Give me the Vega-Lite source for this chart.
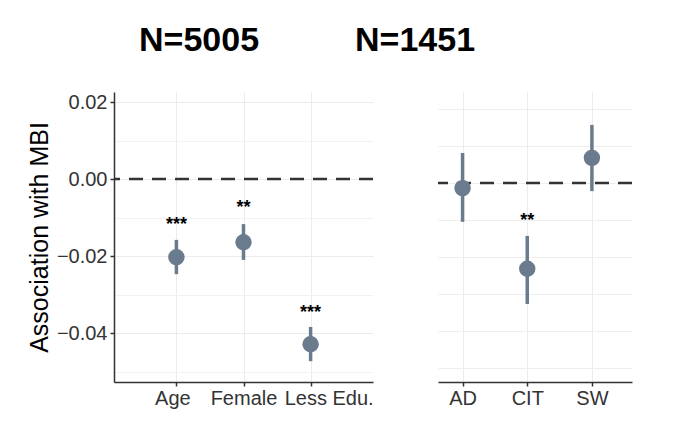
{
  "$schema": "https://vega.github.io/schema/vega-lite/v6.json",
  "padding": {"left": 27, "top": 24, "right": 10, "bottom": 5},
  "background": "white",
  "bounds": "flush",
  "config": {
    "font": "Liberation Sans",
    "view": {"stroke": null},
    "title": {"fontSize": 34, "fontWeight": "bold", "color": "black", "anchor": "start", "frame": "group"}
  },
  "spacing": 65,
  "datasets": {
    "left": [
      {"var": "Age", "est": -0.0203, "lo": -0.0247, "hi": -0.0158, "star": "***", "stary": -0.0107},
      {"var": "Female", "est": -0.0164, "lo": -0.021, "hi": -0.0117, "star": "**", "stary": -0.0062},
      {"var": "Less Edu.", "est": -0.0429, "lo": -0.0473, "hi": -0.0384, "star": "***", "stary": -0.0335}
    ],
    "right": [
      {"var": "AD", "est": -0.0014, "lo": -0.0105, "hi": 0.0081, "star": "", "stary": 0.0},
      {"var": "CIT", "est": -0.0232, "lo": -0.0327, "hi": -0.0143, "star": "**", "stary": -0.0089},
      {"var": "SW", "est": 0.0068, "lo": -0.0022, "hi": 0.0157, "star": "", "stary": 0.0}
    ],
    "zero": [{"z": 0}]
  },
  "hconcat": [
    {
      "title": {"text": "N=5005", "dx": 25, "offset": 34},
      "width": 259,
      "height": 290,
      "resolve": {"axis": {"x": "independent", "y": "independent"}},
      "layer": [
        {
          "data": {"name": "left"},
          "mark": {"type": "rule", "color": "#6a7b8d", "strokeWidth": 3.5},
          "encoding": {
            "x": {"field": "var", "type": "nominal", "sort": null,
                  "scale": {"type": "point", "padding": 0.93},
                  "axis": {"title": null, "labelAngle": 0, "labelFontSize": 20, "labelColor": "#333333",
                           "labelPadding": 2, "tickSize": 4, "tickColor": "#333333", "tickWidth": 1.5,
                           "labelOffset": {"condition": [{"test": "datum.value === 'Less Edu.'", "value": 18}, {"test": "datum.value === 'Age'", "value": -4}], "value": 0},
                           "domainColor": "#333333", "domainWidth": 1.5,
                           "grid": true, "gridColor": "#ebebeb", "gridWidth": 1}},
            "y": {"field": "lo", "type": "quantitative",
                  "scale": {"domain": [-0.0527, 0.0226], "nice": false, "zero": false},
                  "axis": {"orient": "right", "values": [-0.05, -0.03, -0.01, 0.01], "grid": true,
                           "gridColor": "#f2f2f2", "gridWidth": 1, "labels": false, "ticks": false,
                           "domain": false, "title": null}},
            "y2": {"field": "hi"}
          }
        },
        {
          "data": {"name": "zero"},
          "mark": {"type": "rule", "color": "#333333", "strokeWidth": 2.5, "strokeDash": [14, 9]},
          "encoding": {"y": {"field": "z", "type": "quantitative", "axis": null}}
        },
        {
          "data": {"name": "left"},
          "mark": {"type": "point", "filled": true, "opacity": 1, "size": 270, "shape": "circle", "color": "#6a7b8d"},
          "encoding": {
            "x": {"field": "var", "type": "nominal", "sort": null, "axis": null},
            "y": {"field": "est", "type": "quantitative",
                  "axis": {"orient": "left", "values": [-0.04, -0.02, 0, 0.02], "format": ".2f",
                           "grid": true, "gridColor": "#ebebeb", "gridWidth": 1,
                           "labelFontSize": 20, "labelColor": "#333333", "labelPadding": 3,
                           "tickSize": 4, "tickColor": "#333333", "tickWidth": 1.5,
                           "domainColor": "#333333", "domainWidth": 1.5,
                           "title": "Association with MBI", "titleFontSize": 25, "titleFontWeight": "normal",
                           "titleColor": "black", "titlePadding": 4}}
          }
        },
        {
          "data": {"name": "left"},
          "mark": {"type": "text", "fontSize": 18, "fontWeight": "bold", "color": "black", "baseline": "middle", "dy": 5},
          "encoding": {
            "x": {"field": "var", "type": "nominal", "sort": null, "axis": null},
            "y": {"field": "stary", "type": "quantitative", "axis": null},
            "text": {"field": "star"}
          }
        }
      ]
    },
    {
      "title": {"text": "N=1451", "dx": -83, "offset": 34},
      "width": 194,
      "height": 290,
      "resolve": {"axis": {"x": "independent", "y": "independent"}},
      "layer": [
        {
          "data": {"name": "right"},
          "mark": {"type": "rule", "color": "#6a7b8d", "strokeWidth": 3.5},
          "encoding": {
            "x": {"field": "var", "type": "nominal", "sort": null,
                  "scale": {"type": "point", "padding": 0.5, "align": 0.38},
                  "axis": {"title": null, "labelAngle": 0, "labelFontSize": 20, "labelColor": "#333333",
                           "labelPadding": 2, "tickSize": 4, "tickColor": "#333333", "tickWidth": 1.5,
                           "domainColor": "#333333", "domainWidth": 1.5,
                           "grid": true, "gridColor": "#ebebeb", "gridWidth": 1}},
            "y": {"field": "lo", "type": "quantitative",
                  "scale": {"domain": [-0.0538, 0.0246], "nice": false, "zero": false},
                  "axis": {"orient": "left", "values": [-0.05, -0.04, -0.03, -0.02, -0.01, 0, 0.01, 0.02],
                           "grid": true, "gridColor": "#eeeeee", "gridWidth": 1, "labels": false,
                           "ticks": false, "domain": false, "title": null}},
            "y2": {"field": "hi"}
          }
        },
        {
          "data": {"name": "zero"},
          "mark": {"type": "rule", "color": "#333333", "strokeWidth": 2.5, "strokeDash": [14, 9]},
          "encoding": {"y": {"field": "z", "type": "quantitative", "axis": null}}
        },
        {
          "data": {"name": "right"},
          "mark": {"type": "point", "filled": true, "opacity": 1, "size": 270, "shape": "circle", "color": "#6a7b8d"},
          "encoding": {
            "x": {"field": "var", "type": "nominal", "sort": null, "axis": null},
            "y": {"field": "est", "type": "quantitative", "axis": null}
          }
        },
        {
          "data": {"name": "right"},
          "mark": {"type": "text", "fontSize": 18, "fontWeight": "bold", "color": "black", "baseline": "middle", "dy": 5},
          "encoding": {
            "x": {"field": "var", "type": "nominal", "sort": null, "axis": null},
            "y": {"field": "stary", "type": "quantitative", "axis": null},
            "text": {"field": "star"}
          }
        }
      ]
    }
  ]
}
